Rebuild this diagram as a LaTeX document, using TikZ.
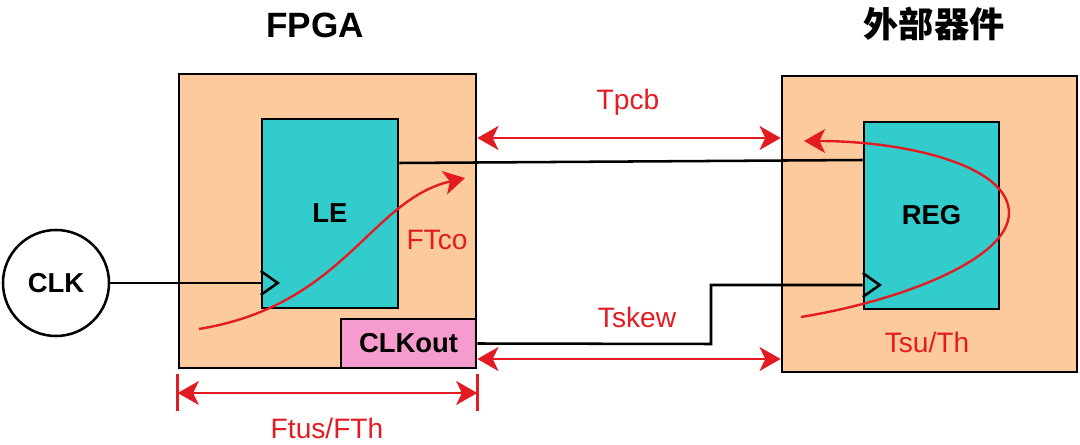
\documentclass[tikz,border=0pt]{standalone}
\usepackage{fontspec}
\setmainfont{Liberation Sans}
\newfontfamily\cjk{Noto Sans CJK SC}
\usetikzlibrary{arrows.meta}
\definecolor{peach}{RGB}{252,202,156}
\definecolor{cellteal}{RGB}{51,204,204}
\definecolor{outpink}{RGB}{245,155,205}
\definecolor{sigred}{RGB}{226,28,34}

\begin{document}
\begin{tikzpicture}[x=0.025cm,y=-0.025cm,line width=1.8pt,
  >={Stealth[length=15pt,width=17pt,inset=4pt]}]
  \tikzstyle{chip}=[draw,fill=peach,inner sep=0pt]
  \tikzstyle{cell}=[draw,fill=cellteal,inner sep=0pt,font=\fontsize{19.5}{22}\selectfont\bfseries]
  \tikzstyle{timing}=[text=sigred,font=\fontsize{20}{24}\selectfont]
  \tikzstyle{delay}=[draw=sigred,line width=1.8pt,<->]
  \tikzstyle{flow}=[draw=sigred,line width=1.7pt,->]
  \tikzstyle{title}=[font=\fontsize{25}{30}\selectfont\bfseries]

  \useasboundingbox (0,0) rectangle (1080,445);

  % titles
  \node[title] (tfpga) at (315,25) {FPGA};
  \node[title] (text) at (934,24) {\cjk 外部器件};

  % boxes
  \node[chip,minimum width=7.425cm,minimum height=7.35cm] (FPGA) at (327.5,221) {};
  \node[chip,minimum width=7.375cm,minimum height=7.4cm] (EXT) at (929.5,224) {};
  \node[cell,minimum width=3.4cm,minimum height=4.725cm] (LE) at (330,213.5) {LE};
  \node[cell,minimum width=3.375cm,minimum height=4.675cm] (REG) at (931.5,215.5) {REG};
  \node[cell,fill=outpink,minimum width=3.375cm,minimum height=1.225cm] (CLKout) at (408.5,343.5) {CLKout};
  \node[circle,draw,minimum size=2.65cm,inner sep=0pt,
    font=\fontsize{19.5}{22}\selectfont\bfseries] (CLK) at (56,283) {CLK};

  % rows
  \coordinate (qrow) at (0,163);
  \coordinate (drow) at (0,160);
  \coordinate (crow) at (0,285);
  \coordinate (bend) at (711,344);
  \coordinate (pcbrow) at (0,138);
  \coordinate (skewrow) at (0,359);
  \coordinate (tusrow) at (0,393);

  % wires
  \draw (LE.east |- qrow) -- (REG.west |- drow);
  \draw (CLK.east) -- (CLK -| LE.west);
  \draw (CLK -| LE.west) ++(0,-12) -- ++(17,12) -- ++(-17,12);
  \draw (CLKout.east) -- (bend) -- (bend |- crow) -- (REG.west |- crow);
  \draw (REG.west |- crow) ++(0,-12) -- ++(17,12) -- ++(-17,12);

  % timing
  \draw[delay] (FPGA.east |- pcbrow) -- (EXT.west |- pcbrow);
  \node[timing] (tpcb) at (628,102) {Tpcb};
  \draw[delay] (FPGA.east |- skewrow) -- (EXT.west |- skewrow);
  \node[timing] (tskew) at (637,317) {Tskew};
  \draw[sigred,line width=1.8pt] (FPGA.south west) ++(0,5) -- ++(0,37);
  \draw[sigred,line width=1.8pt] (FPGA.south east) ++(0,5) -- ++(0,37);
  \draw[delay] (FPGA.west |- tusrow) -- (FPGA.east |- tusrow);
  \node[timing] (tus) at (327,428) {Ftus/FTh};

  \coordinate (costart) at (199,329);
  \coordinate (coend) at (465,178);
  \draw[flow] (costart) .. controls (345,305) and (370,200) .. (coend);
  \node[timing] (tco) at (437,240) {FTco};
  \coordinate (sustart) at (801,317);
  \coordinate (suturn) at (1009,213);
  \coordinate (suend) at (804,141);
  \draw[flow] (sustart) .. controls (905,300) and (1009,258) .. (suturn)
    .. controls (1009,165) and (905,141) .. (suend);
  \node[timing] (tsu) at (927,342) {Tsu/Th};
\end{tikzpicture}
\end{document}
